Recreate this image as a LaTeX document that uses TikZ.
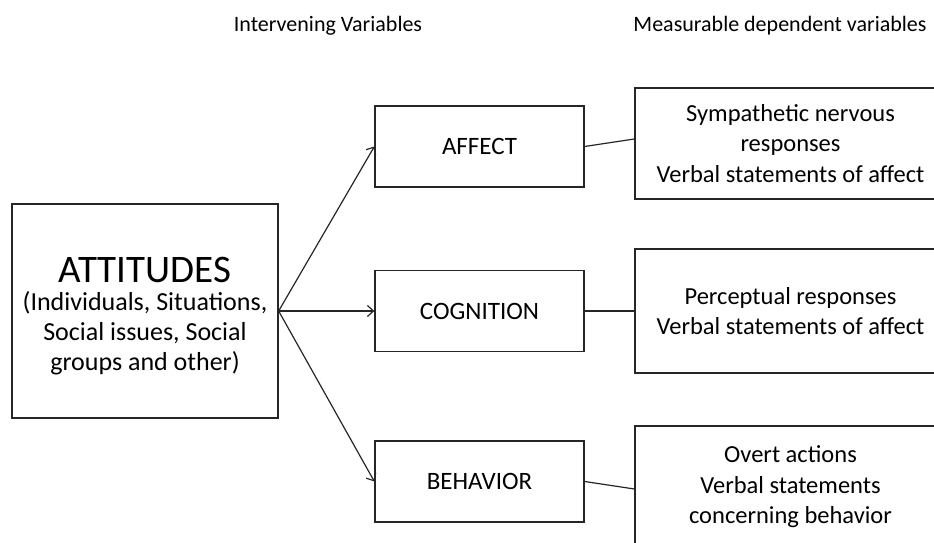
\documentclass[tikz,border=0pt]{standalone}
\usepackage{fontspec}
\setmainfont{Carlito}
\usetikzlibrary{arrows.meta}

\begin{document}
\begin{tikzpicture}[x=1pt, y=1pt, line width=1.2pt, draw=black!85,
    box/.style={draw, line width=1.3pt, rectangle, align=center, minimum width=209pt, minimum height=81pt, inner sep=0pt, font=\fontsize{25}{30}\selectfont},
    mbox/.style={draw, line width=1.3pt, rectangle, align=center, minimum width=311pt, inner sep=0pt, font=\fontsize{24.5}{30.5}\selectfont},
    head/.style={font=\fontsize{22}{26}\selectfont, inner sep=0pt, anchor=base}]
%\draw [help lines] (0,0) grid [step=50] (934,543);
    \clip (0,0) rectangle (934,543);
    % headers
    \node [head] (hint) at (328,511) {Intervening Variables};
    \node [head] (hmeas) at (780,511) {Measurable dependent variables};
    % left box
    \node [draw, line width=1.3pt, rectangle, align=center, minimum width=266pt, minimum height=214pt, inner sep=0pt,
           font=\fontsize{26}{30}\selectfont] (att) at (145,232)
          {{\fontsize{39}{30}\selectfont\rule{0pt}{35pt}ATTITUDES}\\[-2pt]
           (Individuals, Situations,\\ Social issues, Social\\ groups and other)};
    % intervening variables
    \node [box] (affect) at (479.5,396.5) {AFFECT};
    \node [box] (cognition) at (479.5,232) {COGNITION};
    \node [box] (behavior) at (479.5,61.5) {BEHAVIOR};
    % measurable variables
    \node [mbox, minimum height=111pt] (maffect) at (790.5,399.5)
          {Sympathetic nervous\\ responses\\ Verbal statements of affect};
    \node [mbox, minimum height=124pt] (mcognition) at (790.5,232)
          {Perceptual responses\\ Verbal statements of affect};
    \node [mbox, minimum height=122pt] (mbehavior) at (790.5,56)
          {Overt actions\\ Verbal statements\\ concerning behavior};
    % arrows
    \draw [-{Straight Barb[length=6pt,width=11pt]}] (att.east) -- (affect.west);
    \draw [-{Straight Barb[length=6pt,width=11pt]}] (att.east) -- (cognition.west);
    \draw [-{Straight Barb[length=6pt,width=11pt]}] (att.east) -- (behavior.west);
    % lines
    \draw (affect.east) -- ([yshift=4.5pt]maffect.west);
    \draw (cognition.east) -- (mcognition.west);
    \draw (behavior.east) -- ([yshift=-2pt]mbehavior.west);
\end{tikzpicture}
\end{document}
